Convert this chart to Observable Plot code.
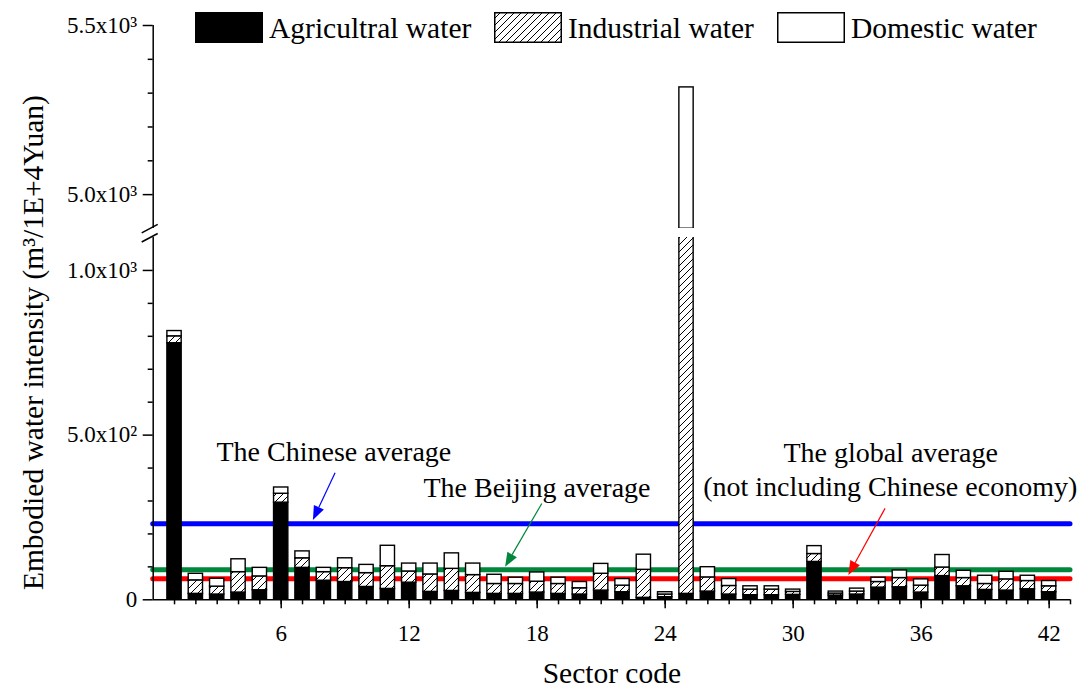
<!DOCTYPE html>
<html><head><meta charset="utf-8">
<script src="https://cdn.jsdelivr.net/npm/d3@7"></script>
<script src="https://cdn.jsdelivr.net/npm/@observablehq/plot@0.6"></script>
<style>
body{margin:0;background:#fff;}
#wrap{position:relative;width:1085px;height:688px;font-family:"Liberation Serif","Times New Roman",serif;}
#chart svg text{font-family:"Liberation Serif","Times New Roman",serif !important;}
.item{position:absolute;top:12px;display:flex;align-items:center;font-size:29.5px;line-height:30px;color:#000;white-space:nowrap;}
.item svg{margin-right:6px;display:block;}
</style></head><body>
<div id="wrap"><div id="chart"></div><div id="legend"></div></div>
<script>
// ---- data ----
const sectors = d3.range(1, 43);
const agricultural = [779,18,16,22,29,295,97,58,54,39,33,52,24,27,21,18,18,22,18,16,28,23,6,8,18,25,16,14,14,15,115,13,16,37,38,22,72,41,30,28,32,23];
const industrial   = [21,41,24,62,42,27,29,26,42,42,69,34,53,67,54,30,30,33,30,19,51,20,85,8,4780,43,26,17,17,9,24,6,9,17,28,21,26,25,18,34,25,18];
const domestic     = [16,20,24,39,26,19,21,13,30,25,62,24,33,47,35,28,19,28,19,19,30,20,46,7,519,31,21,10,10,7,24,6,9,13,23,19,38,22,25,23,16,16];
const types = ["Agricultral water", "Industrial water", "Domestic water"];
const averageNames = ["The Chinese average", "The Beijing average", "The global average"];
const averageValues = [231, 91, 64];
const averageColors = ["#0000ff", "#00873c", "#ff0000"];
const yMajorTicks = [0, 500, 1000, 5000, 5500];
const yMajorLabels = ["0", "5.0x10²", "1.0x10³", "5.0x10³", "5.5x10³"];
const yMinorTicks = [100,200,300,400,600,700,800,900,5100,5200,5300,5400];
const xMajorTicks = [6, 12, 18, 24, 30, 36, 42];
const xMinorTicks = d3.range(1, 44);
const annotationTexts = [
  {x: 8.47, y: 450, text: "The Chinese average"},
  {x: 17.99, y: 339, text: "The Beijing average"},
  {x: 34.57, y: 447, text: "The global average"},
  {x: 34.55, y: 343, text: "(not including Chinese economy)"}
];
const arrows = [
  {x1: 8.55, y1: 384, x2: 7.51, y2: 241, color: "#0000ff"},
  {x1: 18.24, y1: 291, x2: 16.52, y2: 99, color: "#00873c"},
  {x1: 34.33, y1: 276, x2: 32.61, y2: 74, color: "#ff0000"}
];

// ---- broken axis definition ----
const BREAK_LO = 1100, BREAK_HI = 4900, Y_MAX = 5500, X_MAX = 43;
const BREAK_GAP = 27.5;      // display units taken by the break
const UPPER_STRETCH = 1.027; // upper segment drawn slightly taller per unit
const brk = v => v <= BREAK_LO ? v
  : v >= BREAK_HI ? BREAK_LO + BREAK_GAP + (v - BREAK_HI) * UPPER_STRETCH
  : BREAK_LO + BREAK_GAP * (v - BREAK_LO) / (BREAK_HI - BREAK_LO);

// ---- derived tables ----
const rows = [];
sectors.forEach((s, i) => {
  let base = 0;
  [agricultural[i], industrial[i], domestic[i]].forEach((v, k) => {
    rows.push({sector: s, type: types[k], y1: base, y2: base + v});
    base += v;
  });
});
const averages = averageNames.map((n, i) => ({name: n, value: averageValues[i], color: averageColors[i]}));
const fills = {"Agricultral water": "black", "Industrial water": "url(#hatch)", "Domestic water": "white"};
const BAR_HALF = 0.335;
const SERIF = "Liberation Serif";

const defs = () => {
  const d = d3.create("svg:defs");
  const p = d.append("pattern").attr("id", "hatch").attr("patternUnits", "userSpaceOnUse")
    .attr("width", 7).attr("height", 7);
  p.append("rect").attr("width", 7).attr("height", 7).attr("fill", "white");
  p.append("path").attr("d", "M-1,1l2,-2M0,7l7,-7M6,8l2,-2").attr("stroke", "black").attr("stroke-width", 1);
  return d.node();
};

const arrowMark = (index, scales) => {
  const g = d3.create("svg:g");
  arrows.forEach(a => {
    const x1 = scales.x(a.x1), y1 = scales.y(brk(a.y1)), x2 = scales.x(a.x2), y2 = scales.y(brk(a.y2));
    const ang = Math.atan2(y2 - y1, x2 - x1), L = 14, W = 5.5;
    const bx = x2 - L * Math.cos(ang), by = y2 - L * Math.sin(ang);
    g.append("line").attr("x1", x1).attr("y1", y1).attr("x2", bx).attr("y2", by)
      .attr("stroke", a.color).attr("stroke-width", 1.2);
    const px = -Math.sin(ang) * W, py = Math.cos(ang) * W;
    g.append("path").attr("d", `M${x2},${y2}L${bx + px},${by + py}L${bx - px},${by - py}Z`).attr("fill", a.color);
  });
  return g.node();
};

const breakMarks = (index, scales) => {
  const g = d3.create("svg:g").attr("stroke", "black").attr("stroke-width", 1.5);
  const x0 = scales.x(0);
  [scales.y(brk(BREAK_HI)), scales.y(brk(BREAK_LO))].forEach(y => {
    g.append("line").attr("x1", x0 - 11).attr("y1", y + 5).attr("x2", x0 + 5).attr("y2", y - 3.5);
  });
  return g.node();
};

const barMarks = types.map(t => Plot.rectY(rows.filter(r => r.type === t), {
  x1: d => d.sector - BAR_HALF, x2: d => d.sector + BAR_HALF,
  y1: d => brk(d.y1), y2: d => brk(d.y2),
  fill: fills[t], stroke: "black", strokeWidth: 1.4
}));

const chart = Plot.plot({
  width: 1085, height: 688,
  marginLeft: 152.7, marginRight: 15, marginTop: 25, marginBottom: 88.7,
  style: {fontFamily: SERIF, fontSize: "23px", color: "black", background: "white", overflow: "visible"},
  x: {domain: [0, X_MAX]},
  y: {domain: [0, brk(Y_MAX)]},
  marks: [
    defs,
    Plot.ruleY(averages, {y: d => brk(d.value), x1: 0, x2: X_MAX, stroke: "color", strokeWidth: 5, strokeLinecap: "round"}),
    ...barMarks,
    Plot.ruleX([0], {y1: 0, y2: brk(Y_MAX), stroke: "black", strokeWidth: 1.5}),
    Plot.ruleY([0], {x1: 0, x2: X_MAX, stroke: "black", strokeWidth: 1.5}),
    Plot.rect([BREAK_LO], {x1: -0.3, x2: X_MAX, y1: brk(BREAK_LO), y2: brk(BREAK_HI), fill: "white"}),
    breakMarks,
    Plot.axisY(yMajorTicks.map(brk), {tickSize: 10, tickPadding: 6, strokeWidth: 1.5, fontSize: 23, fontFamily: SERIF, label: null,
      tickFormat: (v, i) => yMajorLabels[i]}),
    Plot.axisY(yMinorTicks.map(brk), {tickSize: 5, strokeWidth: 1.5, text: null, label: null}),
    Plot.axisX(xMajorTicks, {tickSize: 9, tickPadding: 16, strokeWidth: 1.5, fontSize: 23, fontFamily: SERIF, label: null}),
    Plot.axisX(xMinorTicks, {tickSize: 5, strokeWidth: 1.5, text: null, label: null}),
    arrowMark,
    Plot.text(annotationTexts, {x: "x", y: d => brk(d.y), text: "text", fontSize: 28, fontFamily: SERIF}),
    Plot.text(["Embodied water intensity (m³/1E+4Yuan)"], {frameAnchor: "left", textAnchor: "middle", lineAnchor: "middle", rotate: -90, dx: -120, dy: 30, fontSize: 29.5, fontFamily: SERIF}),
    Plot.text(["Sector code"], {frameAnchor: "bottom", textAnchor: "middle", lineAnchor: "middle", dy: 74, fontSize: 29.5, fontFamily: SERIF})
  ]
});
document.getElementById("chart").appendChild(chart);

// ---- legend ----
const legendLeft = [195, 494, 777];
const legend = d3.select("#legend");
types.forEach((t, i) => {
  const item = legend.append("div").attr("class", "item").style("left", legendLeft[i] + "px");
  const s = item.append("svg").attr("width", 68).attr("height", 31);
  if (i === 1) {
    const p = s.append("defs").append("pattern").attr("id", "hatchL").attr("patternUnits", "userSpaceOnUse").attr("width", 7).attr("height", 7);
    p.append("rect").attr("width", 7).attr("height", 7).attr("fill", "white");
    p.append("path").attr("d", "M-1,1l2,-2M0,7l7,-7M6,8l2,-2").attr("stroke", "black").attr("stroke-width", 1);
  }
  s.append("rect").attr("x", 0.75).attr("y", 0.75).attr("width", 66.5).attr("height", 29.5)
    .attr("fill", i === 1 ? "url(#hatchL)" : fills[t]).attr("stroke", "black").attr("stroke-width", 1.5);
  item.append("span").text(t);
});
</script>
</body></html>
